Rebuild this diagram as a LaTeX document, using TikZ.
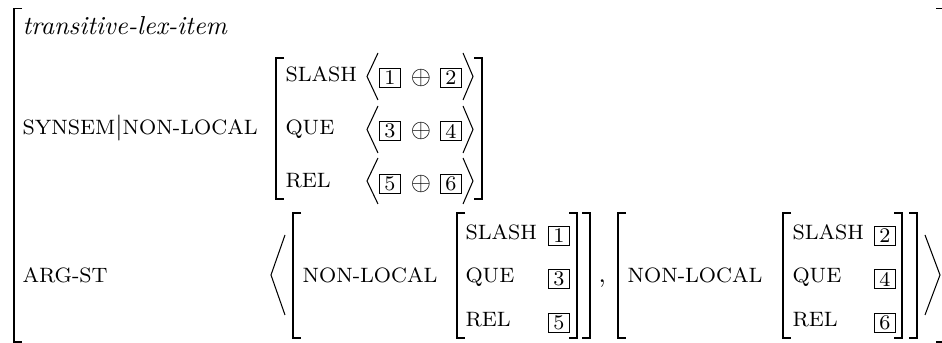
\documentclass[tikz,border=0pt]{standalone}
\usepackage{amsmath}
\usepackage{tikz}

\begin{document}
\begin{tikzpicture}[
  x=0.3846pt,y=-0.3846pt,
  feat/.style={anchor=base west,inner sep=0pt,font=\footnotesize},
  typ/.style={anchor=base west,inner sep=0pt,font=\itshape},
  tag/.style={draw,line width=0.4pt,inner sep=0pt,minimum width=7.9pt,minimum height=7.1pt,font=\footnotesize},
  plus/.style={inner sep=0pt},
  brk/.style={line width=0.6pt},
  angl/.style={line width=0.4pt,line join=miter}
]
\useasboundingbox (0,0) rectangle (942,343);

\draw[brk] (22,8.5) -| (14,342) -- ++(8,0);
\draw[brk] (936,8.5) -| (944,342) -- ++(-8,0);
\node[typ] (type) at (22,35) {transitive-lex-item};
\node[feat] (synsem) at (22,135) {SYNSEM\normalsize$|$\footnotesize NON-LOCAL};
\node[feat] (argst) at (22,283) {ARG-ST};

\draw[brk] (284,58) -| (276,199) -- ++(8,0);
\draw[brk] (474,58) -| (482,199) -- ++(-8,0);
\node[feat] (slash) at (285,82) {SLASH};
\node[feat] (que) at (285,135) {QUE};
\node[feat] (rel) at (285,188) {REL};

\draw[angl] (378,53) -- (367,76.5) -- (378,100);
\node[tag] (s1) at (390,78) {1};
\node[plus] (sp) at (421,78) {$\oplus$};
\node[tag] (s2) at (451,78) {2};
\draw[angl] (463,53) -- (473,76.5) -- (463,100);

\draw[angl] (378,106) -- (367,129.5) -- (378,153);
\node[tag] (q3) at (390,131) {3};
\node[plus] (qp) at (421,131) {$\oplus$};
\node[tag] (q4) at (451,131) {4};
\draw[angl] (463,106) -- (473,129.5) -- (463,153);

\draw[angl] (378,158) -- (367,181) -- (378,204);
\node[tag] (r5) at (390,184) {5};
\node[plus] (rp) at (421,184) {$\oplus$};
\node[tag] (r6) at (451,184) {6};
\draw[angl] (463,158) -- (473,181) -- (463,204);

\draw[angl] (285,235) -- (271,275) -- (285,315);
\draw[brk] (301,213) -| (293,338) -- ++(8,0);
\node[feat] (nlA) at (302,283) {NON-LOCAL};
\draw[brk] (465,213) -| (457,338) -- ++(8,0);
\node[feat] (slashA) at (465,240) {SLASH};
\node[feat] (queA) at (465,283) {QUE};
\node[feat] (relA) at (465,327) {REL};
\node[tag] (a1) at (559,236) {1};
\node[tag] (a3) at (559,279) {3};
\node[tag] (a5) at (559,323) {5};
\draw[brk] (569,213) -| (577,338) -- ++(-8,0);
\draw[brk] (582,213) -| (590,338) -- ++(-8,0);
\node[anchor=base west,inner sep=0pt] (comma) at (598,283) {,};

\draw[brk] (626,213) -| (618,338) -- ++(8,0);
\node[feat] (nlB) at (627,283) {NON-LOCAL};
\draw[brk] (791,213) -| (783,338) -- ++(8,0);
\node[feat] (slashB) at (792,240) {SLASH};
\node[feat] (queB) at (792,283) {QUE};
\node[feat] (relB) at (792,327) {REL};
\node[tag] (b2) at (885,236) {2};
\node[tag] (b4) at (885,279) {4};
\node[tag] (b6) at (885,323) {6};
\draw[brk] (894,213) -| (902,338) -- ++(-8,0);
\draw[brk] (909,213) -| (917,338) -- ++(-8,0);
\draw[angl] (925,235) -- (940,275) -- (925,315);
\end{tikzpicture}
\end{document}
